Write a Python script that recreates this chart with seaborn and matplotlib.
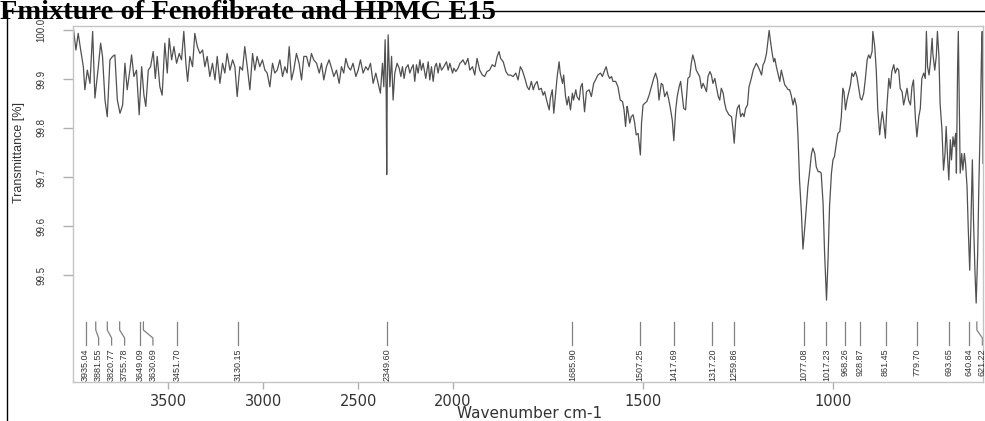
import numpy as np
import matplotlib
matplotlib.use("Agg")
import matplotlib.pyplot as plt
import matplotlib.transforms as mtransforms
from matplotlib.patches import Rectangle
import seaborn as sns

# ---------------- data ----------------
title_text = "Fmixture of Fenofibrate and HPMC E15"
x_label = "Wavenumber cm-1"
y_label = "Transmittance [%]"

wavenumber = [
    4000, 3986, 3974, 3961, 3947, 3939, 3926, 3912, 3898, 3886,
    3868, 3856, 3846, 3833, 3821, 3807, 3793, 3781, 3768, 3754,
    3740, 3728, 3716, 3702, 3693, 3681, 3667, 3653, 3640, 3628,
    3618, 3605, 3593, 3579, 3568, 3558, 3544, 3532, 3518, 3505,
    3495, 3482, 3470, 3456, 3442, 3430, 3418, 3407, 3398, 3386,
    3372, 3360, 3347, 3333, 3319, 3307, 3295, 3281, 3267, 3254,
    3242, 3228, 3214, 3202, 3190, 3175, 3161, 3149, 3137, 3123,
    3109, 3097, 3084, 3070, 3056, 3044, 3032, 3018, 3004, 2991,
    2979, 2965, 2951, 2939, 2926, 2912, 2898, 2886, 2874, 2863,
    2851, 2839, 2825, 2811, 2798, 2786, 2772, 2758, 2746, 2734,
    2719, 2705, 2693, 2681, 2667, 2653, 2640, 2628, 2614, 2600,
    2588, 2576, 2565, 2553, 2540, 2527, 2512, 2500, 2488, 2474,
    2460, 2448, 2435, 2421, 2407, 2395, 2383, 2372, 2365, 2358,
    2352, 2349.6, 2347, 2342, 2333, 2324, 2316, 2307, 2295, 2284,
    2275, 2267, 2258, 2249, 2237, 2228, 2219, 2210, 2202, 2193,
    2184, 2175, 2167, 2158, 2144, 2131, 2123, 2114, 2105, 2096,
    2088, 2079, 2070, 2061, 2049, 2035, 2026, 2017, 2003, 1998,
    1993, 1987, 1982, 1978, 1974, 1968, 1961, 1956, 1949, 1943,
    1937, 1930, 1923, 1917, 1911, 1904, 1897, 1890, 1884, 1879,
    1875, 1868, 1861, 1855, 1849, 1842, 1835, 1829, 1823, 1818,
    1811, 1805, 1800, 1794, 1789, 1785, 1779, 1774, 1768, 1763,
    1759, 1753, 1747, 1744, 1739, 1735, 1730, 1726, 1721, 1718,
    1712, 1709, 1704, 1700, 1696, 1691, 1686, 1683, 1677, 1674,
    1668, 1664, 1660, 1654, 1649, 1642, 1636, 1630, 1625, 1619,
    1612, 1607, 1601, 1597, 1592, 1588, 1583, 1579, 1572, 1566,
    1560, 1554, 1550, 1546, 1542, 1540, 1535, 1531, 1526, 1522,
    1518, 1513, 1507, 1504, 1500, 1496, 1490, 1484, 1478, 1472,
    1467, 1462, 1458, 1452, 1448, 1443, 1437, 1432, 1428, 1423,
    1419, 1414, 1410, 1405, 1401, 1397, 1393, 1388, 1382, 1377,
    1373, 1369, 1364, 1360, 1351, 1346, 1342, 1338, 1333, 1329,
    1324, 1320, 1316, 1311, 1307, 1302, 1298, 1294, 1289, 1285,
    1281, 1274, 1267, 1263, 1260, 1256, 1252, 1247, 1243, 1238,
    1234, 1230, 1225, 1221, 1215, 1210, 1206, 1202, 1197, 1193,
    1188, 1184, 1180, 1175, 1171, 1168, 1165, 1160, 1156, 1153,
    1149, 1145, 1140, 1136, 1131, 1127, 1123, 1118, 1114, 1110,
    1105, 1101, 1096, 1092, 1088, 1083, 1079, 1074, 1070, 1066,
    1061, 1057, 1053, 1048, 1044, 1039, 1035, 1031, 1026, 1022,
    1017, 1013, 1009, 1004, 1000, 996, 991, 987, 982, 978,
    974, 971, 967, 963, 959, 954, 950, 946, 941, 937,
    932, 928, 924, 919, 915, 910, 906, 902, 897, 895,
    890, 886, 882, 877, 873, 870, 867, 862, 858, 853,
    849, 845, 840, 836, 831, 827, 823, 818, 814, 810,
    805, 801, 796, 792, 788, 783, 779, 774, 770, 766,
    761, 757, 754, 751, 747, 743, 739, 737, 732, 728,
    725, 721, 718, 713, 709, 705, 702, 698, 695, 691,
    688, 684, 681, 677, 675, 672, 670, 667, 665, 661,
    658, 654, 651, 647, 644, 640, 637, 633, 630, 626,
    623, 619, 616, 612, 609, 607, 605,
]

transmittance = [
    100.005, 99.959, 99.993, 99.959, 99.925, 99.878, 99.918, 99.891, 99.997, 99.861,
    99.925, 99.973, 99.946, 99.857, 99.823, 99.939, 99.946, 99.949, 99.857, 99.830,
    99.847, 99.932, 99.878, 99.918, 99.949, 99.905, 99.918, 99.827, 99.925, 99.867,
    99.844, 99.918, 99.925, 99.956, 99.901, 99.946, 99.884, 99.867, 99.973, 99.912,
    99.983, 99.939, 99.966, 99.932, 99.952, 99.939, 99.997, 99.932, 99.895, 99.946,
    99.925, 99.993, 99.966, 99.952, 99.959, 99.925, 99.946, 99.905, 99.932, 99.898,
    99.946, 99.891, 99.932, 99.912, 99.952, 99.918, 99.939, 99.925, 99.864, 99.925,
    99.918, 99.966, 99.925, 99.878, 99.952, 99.918, 99.946, 99.925, 99.939, 99.918,
    99.912, 99.884, 99.932, 99.912, 99.918, 99.939, 99.905, 99.925, 99.912, 99.966,
    99.898, 99.918, 99.952, 99.932, 99.898, 99.946, 99.946, 99.925, 99.952, 99.939,
    99.932, 99.912, 99.932, 99.898, 99.925, 99.939, 99.922, 99.905, 99.918, 99.891,
    99.925, 99.912, 99.942, 99.925, 99.918, 99.932, 99.905, 99.918, 99.939, 99.912,
    99.925, 99.918, 99.932, 99.891, 99.912, 99.891, 99.871, 99.932, 99.884, 99.980,
    99.860, 99.705, 99.880, 99.990, 99.884, 99.946, 99.857, 99.912, 99.932, 99.922,
    99.905, 99.925, 99.901, 99.922, 99.929, 99.912, 99.922, 99.929, 99.895, 99.929,
    99.912, 99.939, 99.918, 99.932, 99.901, 99.935, 99.898, 99.925, 99.895, 99.925,
    99.932, 99.912, 99.932, 99.918, 99.925, 99.935, 99.918, 99.932, 99.912, 99.922,
    99.915, 99.922, 99.932, 99.935, 99.939, 99.929, 99.942, 99.918, 99.925, 99.908,
    99.942, 99.918, 99.908, 99.905, 99.915, 99.918, 99.929, 99.925, 99.946, 99.956,
    99.942, 99.935, 99.915, 99.908, 99.908, 99.905, 99.912, 99.898, 99.925, 99.918,
    99.901, 99.884, 99.878, 99.895, 99.878, 99.888, 99.895, 99.878, 99.881, 99.867,
    99.874, 99.854, 99.837, 99.861, 99.878, 99.830, 99.871, 99.905, 99.935, 99.912,
    99.891, 99.908, 99.864, 99.847, 99.864, 99.837, 99.871, 99.857, 99.878, 99.864,
    99.857, 99.884, 99.891, 99.833, 99.874, 99.878, 99.864, 99.891, 99.898, 99.908,
    99.912, 99.905, 99.918, 99.925, 99.908, 99.901, 99.905, 99.895, 99.895, 99.884,
    99.857, 99.854, 99.837, 99.803, 99.844, 99.837, 99.810, 99.823, 99.827, 99.810,
    99.786, 99.789, 99.745, 99.810, 99.847, 99.850, 99.854, 99.867, 99.884, 99.901,
    99.912, 99.898, 99.857, 99.891, 99.888, 99.864, 99.874, 99.857, 99.840, 99.816,
    99.774, 99.837, 99.864, 99.884, 99.895, 99.867, 99.840, 99.837, 99.901, 99.905,
    99.932, 99.949, 99.935, 99.918, 99.905, 99.881, 99.891, 99.884, 99.874, 99.905,
    99.915, 99.908, 99.891, 99.901, 99.884, 99.864, 99.857, 99.881, 99.871, 99.850,
    99.837, 99.827, 99.823, 99.796, 99.769, 99.816, 99.840, 99.847, 99.823, 99.830,
    99.823, 99.840, 99.847, 99.884, 99.901, 99.918, 99.925, 99.932, 99.925, 99.918,
    99.908, 99.929, 99.935, 99.952, 99.980, 99.999, 99.980, 99.952, 99.935, 99.942,
    99.925, 99.912, 99.895, 99.918, 99.901, 99.888, 99.884, 99.878, 99.878, 99.867,
    99.847, 99.861, 99.844, 99.782, 99.694, 99.626, 99.553, 99.599, 99.640, 99.680,
    99.714, 99.745, 99.759, 99.748, 99.721, 99.711, 99.711, 99.708, 99.646, 99.544,
    99.449, 99.531, 99.640, 99.708, 99.735, 99.742, 99.769, 99.789, 99.793, 99.823,
    99.881, 99.874, 99.837, 99.857, 99.871, 99.888, 99.912, 99.905, 99.915, 99.905,
    99.881, 99.861, 99.857, 99.871, 99.898, 99.939, 99.949, 99.942, 99.956, 99.997,
    99.966, 99.918, 99.837, 99.786, 99.816, 99.833, 99.816, 99.779, 99.844, 99.901,
    99.881, 99.915, 99.929, 99.912, 99.922, 99.918, 99.881, 99.874, 99.847, 99.861,
    99.881, 99.857, 99.847, 99.884, 99.898, 99.820, 99.782, 99.823, 99.840, 99.901,
    99.912, 99.901, 99.997, 99.925, 99.908, 99.939, 99.983, 99.952, 99.918, 99.946,
    99.997, 99.946, 99.850, 99.796, 99.714, 99.748, 99.803, 99.735, 99.694, 99.776,
    99.735, 99.782, 99.762, 99.789, 99.708, 99.918, 99.997, 99.816, 99.708, 99.748,
    99.714, 99.748, 99.728, 99.680, 99.599, 99.510, 99.599, 99.735, 99.612, 99.503,
    99.443, 99.544, 99.680, 99.816, 99.952, 99.997, 99.728,
]

peak_positions = [3935.04, 3881.55, 3820.77, 3755.78, 3649.09, 3630.69, 3451.70,
                  3130.15, 2349.60, 1685.90, 1507.25, 1417.69, 1317.20, 1259.86,
                  1077.08, 1017.23, 968.26, 928.87, 861.45, 779.70, 693.65,
                  640.84, 621.22]

x_ticks = [3500, 3000, 2500, 2000, 1500, 1000]
y_ticks = [99.5, 99.6, 99.7, 99.8, 99.9, 100.0]

# ---------------- figure ----------------
W, H = 985, 421
fig = plt.figure(figsize=(W / 100, H / 100), dpi=100)
ax = fig.add_axes([72.7 / W, (H - 382) / H, (983 - 72.7) / W, (382 - 26) / H])

df_x = np.asarray(wavenumber, float)
df_y = np.asarray(transmittance, float)
sns.lineplot(x=df_x, y=df_y, ax=ax, sort=False, estimator=None,
             color="#505050", linewidth=0.9)


# wavenumber axis: compressed by factor 2 above 2000 cm-1
def fwd(w):
    w = np.asarray(w, float)
    return np.where(w > 2000, 2000 + (w - 2000) / 2.0, w)


def inv(u):
    u = np.asarray(u, float)
    return np.where(u > 2000, 2000 + (u - 2000) * 2.0, u)


ax.set_xscale("function", functions=(fwd, inv))
ax.set_xlim(4003, 605)
ax.set_ylim(99.282, 100.008)

ax.set_xticks(x_ticks)
ax.set_xticklabels([str(t) for t in x_ticks])
ax.set_yticks(y_ticks)
ax.set_yticklabels([f"{t:.1f}" for t in y_ticks])
ax.minorticks_off()

for sp in ax.spines.values():
    sp.set_color("#c4c4c4")
    sp.set_linewidth(1.0)

ax.tick_params(axis="x", direction="out", length=5, width=1, color="#b0b0b0",
               pad=4, labelsize=10.5, labelcolor="#333333")
ax.tick_params(axis="y", direction="out", length=7, width=1, color="#b0b0b0",
               pad=12, labelsize=7, labelcolor="#333333", labelrotation=90)
for lab in ax.get_xticklabels():
    lab.set_fontfamily("DejaVu Sans")
for lab in ax.get_yticklabels():
    lab.set_fontfamily("Liberation Sans")
    lab.set_va("center")

ax.set_xlabel(x_label, fontsize=11, color="#333333", fontfamily="DejaVu Sans")
ax.xaxis.set_label_coords(0.502, -0.089)
ax.xaxis.label.set_va("center")
ax.set_ylabel(y_label, fontsize=9, color="#333333", fontfamily="Liberation Sans")
ax.yaxis.set_label_coords(-0.059, 0.646)
ax.yaxis.label.set_va("center")

# ---------------- peak annotations ----------------
blend = mtransforms.blended_transform_factory(ax.transData, ax.transAxes)
order = np.argsort(-np.asarray(peak_positions))
peaks_sorted = np.asarray(peak_positions)[order]
disp_x = ax.transData.transform(np.column_stack([peaks_sorted, np.full(len(peaks_sorted), 99.9)]))[:, 0]
gap = 13.0
label_disp = []
prev = -1e9
for dx in disp_x:
    lx = max(dx, prev + gap)
    label_disp.append(lx)
    prev = lx
label_data = ax.transData.inverted().transform(
    np.column_stack([label_disp, np.full(len(label_disp), 99.9)]))[:, 0]

y_top, y_b1, y_b2, y_end, y_txt = 0.1685, 0.146, 0.1236, 0.104, 0.0955
for p, lx in zip(peaks_sorted, label_data):
    ax.plot([p, p, lx, lx], [y_top, y_b1, y_b2, y_end], transform=blend,
            color="#808080", linewidth=0.9, clip_on=False)
    ax.text(lx, y_txt, f"{p:.2f}", transform=blend, rotation=90,
            ha="center", va="top", fontsize=6.5, color="#333333",
            fontfamily="Liberation Sans", clip_on=False)

# ---------------- outer frame and title ----------------
fig.patches.append(Rectangle((7 / W, -0.05), 1.2, (1 - 11 / H) + 0.05,
                             transform=fig.transFigure, fill=False,
                             edgecolor="black", linewidth=1.0))
fig.text(0.0, 1 - 19 / H, title_text, fontsize=20.5, fontweight="bold",
         fontfamily="Liberation Serif", ha="left", va="baseline", color="black")

fig.savefig("out.png", dpi=100)
